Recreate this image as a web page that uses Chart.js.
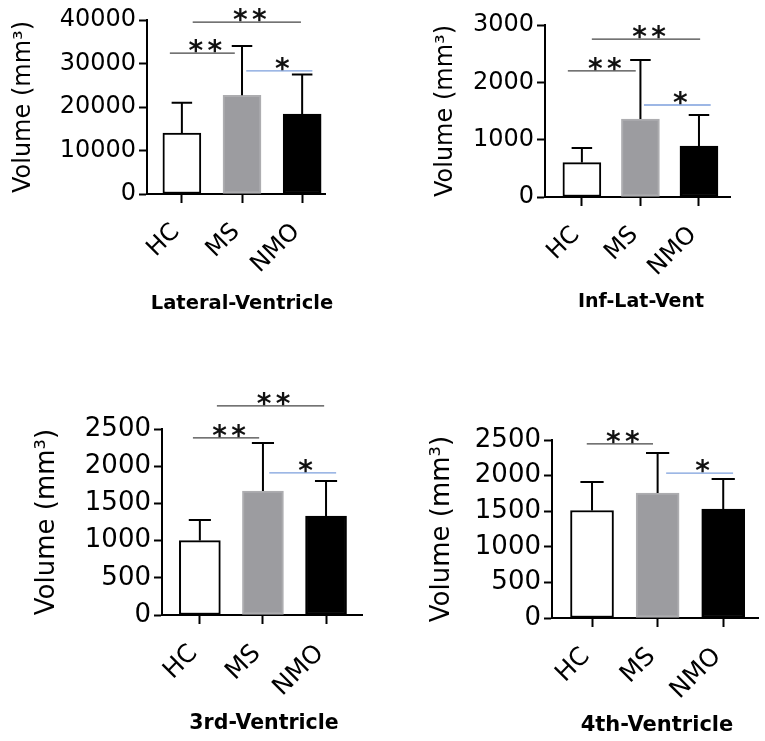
<!DOCTYPE html>
<html>
<head>
<meta charset="utf-8">
<script src="https://cdn.jsdelivr.net/npm/chart.js@4.4.0/dist/chart.umd.min.js"></script>
<style>
  body { margin: 0; background: #fff; width: 765px; height: 741px; position: relative; overflow: hidden; }
  .panel { position: absolute; }
</style>
</head>
<body>
<div class="panel" style="left:0;top:0;width:340px;height:320px"><canvas id="lateral"></canvas></div>
<div class="panel" style="left:400px;top:0;width:365px;height:320px"><canvas id="inflat"></canvas></div>
<div class="panel" style="left:0;top:380px;width:380px;height:361px"><canvas id="third"></canvas></div>
<div class="panel" style="left:390px;top:380px;width:375px;height:361px"><canvas id="fourth"></canvas></div>

<script>
// groups
var groups = ['HC', 'MS', 'NMO'];

// mean volumes and SD (mm3)
var lateralMean = [14000, 22700, 18400];
var lateralSd = [7000, 11300, 9100];
var lateralTicks = [0, 10000, 20000, 30000, 40000];

var infLatMean = [600, 1360, 890];
var infLatSd = [255, 1030, 540];
var infLatTicks = [0, 1000, 2000, 3000];

var thirdMean = [1000, 1665, 1330];
var thirdSd = [277, 647, 470];
var thirdTicks = [0, 500, 1000, 1500, 2000, 2500];

var fourthMean = [1510, 1755, 1530];
var fourthSd = [400, 562, 422];
var fourthTicks = [0, 500, 1000, 1500, 2000, 2500];

// significance lines: [from, to, level, stars, blue?]
var lateralSig = [[-0.2, 0.88, 32400, '**', false], [0.18, 1.98, 39500, '**', false], [1.07, 2.17, 28300, '*', true]];
var infLatSig = [[-0.24, 0.92, 2200, '**', false], [0.17, 2.02, 2755, '**', false], [1.06, 2.2, 1605, '*', true]];
var thirdSig = [[-0.11, 0.94, 2380, '**', false], [0.27, 1.97, 2810, '**', false], [1.1, 2.16, 1910, '*', true]];
var fourthSig = [[-0.08, 0.93, 2445, '**', false], [1.13, 2.15, 2035, '*', true]];

var barColors = ['#ffffff', '#9c9ca0', '#000000'];
var barBorders = ['#000000', '#adadb0', '#000000'];

function makePanel(id, p) {
    var ctx = document.getElementById(id).getContext('2d');

    var extras = {
        id: 'extras',
        afterDatasetsDraw: function (chart) {
            var c = chart.ctx, xs = chart.scales.x, ys = chart.scales.y;
            var area = chart.chartArea;
            var meta = chart.getDatasetMeta(0);
            c.save();
            // error bars (upper only)
            c.strokeStyle = '#000';
            c.lineWidth = 2;
            meta.data.forEach(function (bar, i) {
                var top = ys.getPixelForValue(p.mean[i] + p.sd[i]);
                var cap = bar.width * 0.27;
                c.beginPath();
                c.moveTo(bar.x, bar.y);
                c.lineTo(bar.x, top);
                c.moveTo(bar.x - cap, top);
                c.lineTo(bar.x + cap, top);
                c.stroke();
            });
            // significance lines
            p.sig.forEach(function (s) {
                var x1 = xs.getPixelForValue(s[0]);
                var x2 = xs.getPixelForValue(s[1]);
                var yy = ys.getPixelForValue(s[2]);
                c.strokeStyle = s[4] ? '#7d9fdc' : '#444';
                c.lineWidth = 1.3;
                c.beginPath();
                c.moveTo(x1, yy);
                c.lineTo(x2, yy);
                c.stroke();
                c.fillStyle = '#111';
                c.font = 'bold 28px "DejaVu Sans"';
                c.textAlign = 'center';
                c.textBaseline = 'alphabetic';
                var n = s[3].length, mid = (x1 + x2) / 2 + 3;
                for (var k = 0; k < n; k++) {
                    c.fillText(s[3][k], mid + (k - (n - 1) / 2) * 19, yy + 7);
                }
            });
            // region name under the axis
            c.fillStyle = '#000';
            c.font = 'bold ' + p.tf + 'px "DejaVu Sans"';
            c.textAlign = 'center';
            c.textBaseline = 'middle';
            c.fillText(p.name, (area.left + area.right) / 2 + p.tx, area.bottom + p.ty);
            c.restore();
        }
    };

    return new Chart(ctx, {
        type: 'bar',
        data: {
            datasets: [{
                data: p.mean.map(function (v, i) { return { x: i, y: v }; }),
                backgroundColor: barColors,
                borderColor: barBorders,
                borderWidth: 2,
                borderSkipped: false,
                barThickness: p.bar
            }]
        },
        options: {
            responsive: true,
            maintainAspectRatio: false,
            animation: false,
            events: [],
            layout: { padding: { top: p.top, right: p.right, left: 0, bottom: 0 } },
            plugins: { legend: { display: false }, tooltip: { enabled: false } },
            scales: {
                x: {
                    type: 'linear',
                    offset: false,
                    min: p.xmin,
                    max: p.xmax,
                    afterBuildTicks: function (s) {
                        s.ticks = groups.map(function (g, i) { return { value: i }; });
                    },
                    afterFit: function (s) { s.height = p.xh; },
                    grid: { display: true, offset: false, drawOnChartArea: false, drawTicks: true, tickLength: 9, tickWidth: 2, tickColor: '#000' },
                    border: { display: true, color: '#000', width: 2 },
                    ticks: {
                        autoSkip: false,
                        minRotation: 45,
                        maxRotation: 45,
                        padding: 15,
                        labelOffset: -6,
                        color: '#000',
                        font: { family: 'DejaVu Sans', size: p.xf },
                        callback: function (v) { return groups[v]; }
                    }
                },
                y: {
                    min: 0,
                    max: p.ticks[p.ticks.length - 1],
                    afterBuildTicks: function (s) {
                        s.ticks = p.ticks.map(function (v) { return { value: v }; });
                    },
                    afterFit: function (s) { s.width = p.yw; },
                    grid: { display: true, drawOnChartArea: false, drawTicks: true, tickLength: 8, tickWidth: 2, tickColor: '#000' },
                    border: { display: true, color: '#000', width: 2 },
                    ticks: {
                        padding: 3,
                        color: '#000',
                        font: { family: 'DejaVu Sans', size: p.yf },
                        callback: function (v) { return String(v); }
                    },
                    title: {
                        display: true,
                        text: 'Volume (mm³)',
                        color: '#000',
                        font: { family: 'DejaVu Sans', size: p.yf },
                        padding: { top: p.tp, bottom: 0 }
                    }
                }
            }
        },
        plugins: [extras]
    });
}

makePanel('lateral', {
    name: 'Lateral-Ventricle', mean: lateralMean, sd: lateralSd, ticks: lateralTicks, sig: lateralSig,
    xmin: -0.58, xmax: 2.38, bar: 38, top: 20, right: 15, xh: 126, yw: 147, tp: 9.7,
    xf: 24, yf: 24, tf: 19.5, tx: 6, ty: 110
});
makePanel('inflat', {
    name: 'Inf-Lat-Vent', mean: infLatMean, sd: infLatSd, ticks: infLatTicks, sig: infLatSig,
    xmin: -0.63, xmax: 2.53, bar: 38, top: 25, right: 35, xh: 123, yw: 145, tp: 31.7,
    xf: 24, yf: 24, tf: 19, tx: 3.5, ty: 105
});
makePanel('third', {
    name: '3rd-Ventricle', mean: thirdMean, sd: thirdSd, ticks: thirdTicks, sig: thirdSig,
    xmin: -0.6, xmax: 2.57, bar: 41, top: 49, right: 18, xh: 126, yw: 162, tp: 31.8,
    xf: 25, yf: 26, tf: 20.5, tx: 2, ty: 109
});
makePanel('fourth', {
    name: '4th-Ventricle', mean: fourthMean, sd: fourthSd, ticks: fourthTicks, sig: fourthSig,
    xmin: -0.61, xmax: 2.53, bar: 43, top: 60, right: 7, xh: 123, yw: 162, tp: 36.8,
    xf: 25, yf: 26, tf: 21, tx: 2, ty: 108
});
</script>
</body>
</html>
